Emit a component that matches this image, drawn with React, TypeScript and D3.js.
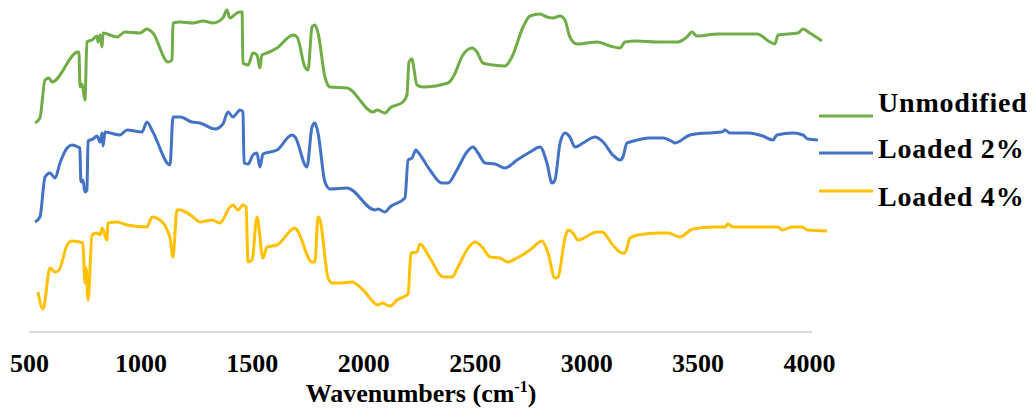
import { useEffect, useRef } from 'react';
import * as d3 from 'd3';

// [wavenumber (cm-1), relative transmittance (a.u., stacked)]
const unmodified: [number, number][] = [
  [527, 209], [549, 214], [572, 252], [590, 254], [603, 250], [720, 280], [724, 280],
  [729, 245], [738, 248], [751, 232], [760, 290], [783, 292], [805, 296], [810, 290],
  [819, 297], [828, 285], [832, 299], [895, 295], [931, 300], [998, 299], [1029, 303],
  [1056, 299], [1124, 270], [1142, 272], [1146, 309], [1178, 310], [1236, 309],
  [1281, 311], [1326, 309], [1370, 314], [1388, 322], [1402, 314], [1433, 319],
  [1447, 320], [1456, 320], [1460, 269], [1483, 267], [1505, 279], [1523, 277],
  [1536, 264], [1545, 277], [1568, 279], [1613, 284], [1685, 297], [1703, 295],
  [1738, 265], [1752, 262], [1770, 305], [1783, 307], [1797, 299], [1828, 255],
  [1851, 245], [1927, 244], [2044, 220], [2062, 222], [2097, 219], [2120, 224],
  [2178, 230], [2196, 237], [2205, 270], [2219, 273], [2223, 269], [2241, 247],
  [2268, 245], [2380, 249], [2403, 255], [2447, 277], [2488, 284], [2510, 280],
  [2537, 269], [2582, 267], [2636, 266], [2667, 275], [2717, 305], [2748, 316],
  [2793, 318], [2824, 315], [2851, 314], [2883, 316], [2905, 312], [2927, 295],
  [2959, 288], [3004, 289], [3049, 290], [3107, 286], [3152, 284], [3174, 290],
  [3228, 291], [3318, 290], [3412, 290], [3452, 295], [3475, 300], [3497, 296],
  [3592, 298], [3767, 298], [3825, 290], [3847, 288], [3861, 297], [3951, 299],
  [3973, 303], [4004, 299], [4058, 291],
];

const loaded2: [number, number][] = [
  [527, 110], [549, 115], [572, 155], [594, 159], [617, 154], [639, 169], [671, 184],
  [693, 187], [720, 185], [728, 184], [733, 150], [742, 152], [751, 140], [760, 142],
  [765, 191], [787, 193], [805, 196], [819, 190], [828, 199], [832, 186], [841, 200],
  [908, 197], [940, 202], [1007, 200], [1029, 210], [1056, 200], [1133, 167],
  [1146, 215], [1178, 215], [1231, 210], [1267, 209], [1335, 203], [1370, 208],
  [1393, 220], [1415, 215], [1433, 219], [1447, 222], [1460, 220], [1465, 169],
  [1483, 168], [1505, 177], [1523, 179], [1536, 165], [1550, 178], [1613, 182],
  [1680, 197], [1694, 195], [1747, 165], [1770, 205], [1783, 209], [1797, 199],
  [1828, 150], [1851, 143], [1927, 144], [2053, 122], [2066, 123], [2097, 120],
  [2120, 125], [2187, 134], [2201, 172], [2219, 174], [2236, 182], [2245, 180],
  [2299, 162], [2353, 149], [2380, 149], [2420, 162], [2465, 180], [2492, 185],
  [2515, 179], [2546, 169], [2591, 168], [2636, 164], [2690, 172], [2748, 180],
  [2793, 185], [2824, 169], [2847, 149], [2860, 152], [2883, 189], [2905, 199],
  [2927, 195], [2950, 185], [2986, 189], [3040, 195], [3076, 190], [3120, 177],
  [3152, 172], [3165, 175], [3183, 189], [3197, 190], [3286, 194], [3345, 194],
  [3390, 190], [3399, 189], [3466, 197], [3542, 199], [3610, 200], [3623, 202],
  [3645, 199], [3726, 199], [3793, 196], [3838, 192], [3856, 197], [3928, 199],
  [3973, 197], [3995, 193], [4040, 192],
];

const loaded4: [number, number][] = [
  [540, 40], [563, 23], [594, 64], [617, 60], [635, 62], [671, 87], [693, 91],
  [742, 89], [751, 49], [756, 64], [765, 32], [783, 97], [805, 99], [819, 97],
  [828, 104], [850, 92], [854, 109], [895, 110], [940, 107], [1029, 105], [1052, 115],
  [1088, 112], [1133, 94], [1146, 75], [1164, 122], [1178, 122], [1236, 115],
  [1267, 110], [1321, 112], [1357, 109], [1402, 125], [1415, 127], [1438, 122],
  [1460, 127], [1474, 125], [1483, 70], [1501, 72], [1523, 115], [1550, 74],
  [1568, 85], [1613, 87], [1694, 104], [1703, 102], [1770, 70], [1783, 70],
  [1797, 115], [1806, 112], [1842, 54], [1860, 49], [1895, 49], [1949, 50],
  [1999, 42], [2066, 27], [2084, 29], [2120, 26], [2151, 32], [2201, 38], [2214, 79],
  [2241, 80], [2254, 88], [2299, 74], [2358, 55], [2398, 55], [2425, 65], [2465, 82],
  [2501, 90], [2533, 85], [2569, 75], [2613, 74], [2649, 70], [2690, 74], [2748, 82],
  [2802, 91], [2829, 79], [2860, 54], [2874, 55], [2905, 94], [2919, 102], [2941, 99],
  [2963, 92], [3049, 100], [3071, 100], [3120, 87], [3161, 79], [3174, 79], [3197, 94],
  [3233, 97], [3331, 99], [3367, 99], [3421, 95], [3479, 103], [3569, 105], [3623, 105],
  [3636, 108], [3659, 105], [3861, 105], [3879, 102], [3924, 105], [3969, 105],
  [3991, 102], [4081, 101],
];

const seriesNames = ['Unmodified', 'Loaded 2%', 'Loaded 4%'];
const seriesColors = ['#70AD47', '#4472C4', '#FFC000'];
const xTicks = [500, 1000, 1500, 2000, 2500, 3000, 3500, 4000];

const WIDTH = 1032;
const HEIGHT = 408;

export default function App() {
  const svgRef = useRef<SVGSVGElement>(null);

  useEffect(() => {
    if (!svgRef.current) return;
    const svg = d3.select(svgRef.current);
    svg.selectAll('*').remove();

    const axisY = 332;
    const x = d3.scaleLinear().domain([500, 4000]).range([29, 809]);
    const y = d3.scaleLinear().domain([0, 320]).range([axisY, 12]);

    const font = "'Liberation Serif', 'Times New Roman', serif";

    // x axis: plain grey line, bold labels, no tick marks
    svg
      .append('g')
      .attr('transform', `translate(0,${axisY})`)
      .call(
        d3
          .axisBottom(x)
          .tickValues(xTicks)
          .tickSize(0)
          .tickSizeOuter(0)
          .tickFormat((d) => String(d))
      )
      .call((g) => {
        g.select('.domain')
          .attr('d', `M${x.range()[0]},0H${x.range()[1] + 3}`)
          .attr('stroke', '#D9D9D9')
          .attr('stroke-width', 2);
        g.selectAll('.tick text')
          .attr('dy', null)
          .attr('y', 40)
          .attr('fill', '#000')
          .attr('font-size', 26)
          .attr('font-weight', 'bold')
          .attr('font-family', font);
      });

    const title = svg
      .append('text')
      .attr('x', 421)
      .attr('y', 402)
      .attr('text-anchor', 'middle')
      .attr('font-size', 26)
      .attr('font-weight', 'bold')
      .attr('font-family', font)
      .attr('fill', '#000');
    title.append('tspan').text('Wavenumbers (cm');
    title.append('tspan').attr('font-size', 16).attr('dy', -10).text('-1');
    title.append('tspan').attr('dy', 10).text(')');

    const line = d3
      .line<[number, number]>()
      .x((d) => x(d[0]))
      .y((d) => y(d[1]))
      .curve(d3.curveMonotoneX);

    const allSeries = [unmodified, loaded2, loaded4];
    svg
      .append('g')
      .selectAll('path')
      .data(allSeries)
      .join('path')
      .attr('d', (d) => line(d) ?? '')
      .attr('fill', 'none')
      .attr('stroke', (_, i) => seriesColors[i])
      .attr('stroke-width', 3)
      .attr('stroke-linejoin', 'round');

    // legend (lines and labels are not evenly aligned in the original)
    const legendLineY = [116, 153, 191];
    const legendTextY = [112, 158, 206];
    const legend = svg.append('g');
    seriesNames.forEach((name, i) => {
      legend
        .append('line')
        .attr('x1', 819)
        .attr('x2', 873)
        .attr('y1', legendLineY[i])
        .attr('y2', legendLineY[i])
        .attr('stroke', seriesColors[i])
        .attr('stroke-width', 3);
      legend
        .append('text')
        .attr('x', 878)
        .attr('y', legendTextY[i])
        .attr('font-size', 28)
        .attr('font-weight', 'bold')
        .attr('letter-spacing', 0.8)
        .attr('font-family', font)
        .attr('fill', '#000')
        .text(name);
    });
  }, []);

  return (
    <svg
      ref={svgRef}
      width={WIDTH}
      height={HEIGHT}
      viewBox={`0 0 ${WIDTH} ${HEIGHT}`}
      style={{ position: 'absolute', left: 0, top: 0, background: '#fff' }}
    />
  );
}
